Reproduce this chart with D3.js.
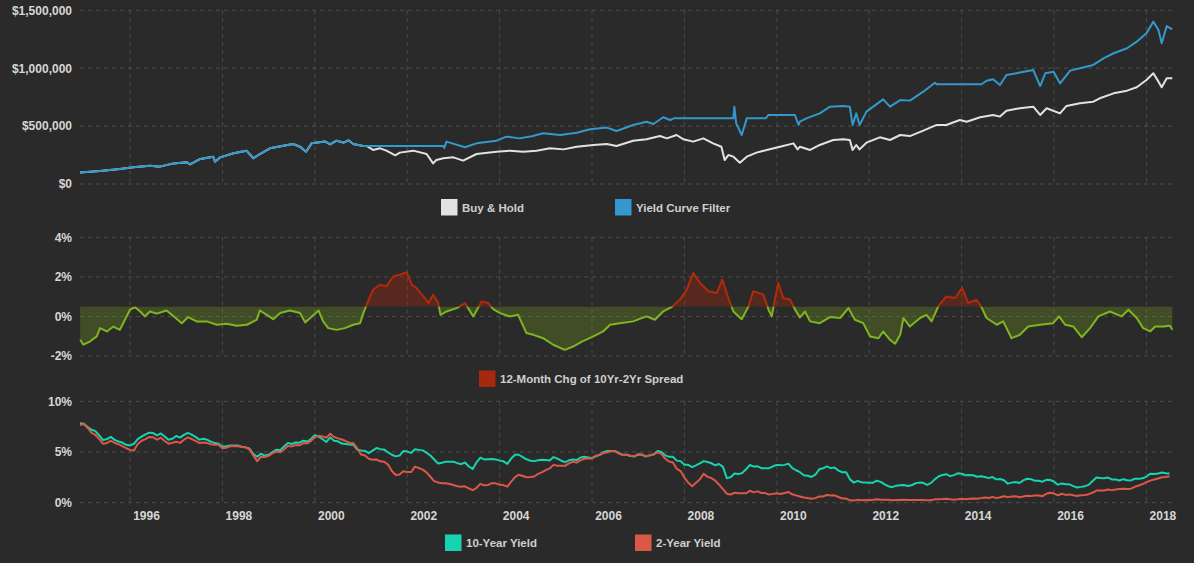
<!DOCTYPE html>
<html>
<head>
<meta charset="utf-8">
<script src="https://cdn.jsdelivr.net/npm/d3@7"></script>
<style>
html,body{margin:0;padding:0;background:#2a2a2a;}
svg{display:block;}
</style>
</head>
<body>
<svg id="chart" width="1194" height="563"></svg>
<script>
// ---------- DATA ----------
const xTickYears = [1996, 1998, 2000, 2002, 2004, 2006, 2008, 2010, 2012, 2014, 2016, 2018];
const topTicks = [0, 500000, 1000000, 1500000];
const midTicks = [-2, 0, 2, 4];
const botTicks = [0, 5, 10];
const spreadThreshold = 0.5;

// Buy & Hold portfolio (decimal year, $ thousands)
const bhDates = [1994.92,1995.35,1995.78,1996.07,1996.43,1996.65,1996.94,1997.23,1997.30,1997.52,1997.80,1997.84,1997.95,1998.24,1998.52,1998.67,1998.81,1999.03,1999.32,1999.53,1999.68,1999.81,1999.93,2000.22,2000.33,2000.47,2000.62,2000.73,2000.83,2001.05,2001.12,2001.26,2001.41,2001.55,2001.74,2001.84,2002.13,2002.42,2002.56,2002.63,2002.78,2003.00,2003.21,2003.50,2003.93,2004.22,2004.51,2004.80,2005.09,2005.38,2005.67,2006.03,2006.32,2006.53,2006.89,2007.18,2007.47,2007.62,2007.83,2007.98,2008.19,2008.41,2008.62,2008.80,2008.87,2008.95,2009.06,2009.20,2009.35,2009.56,2009.78,2010.07,2010.36,2010.45,2010.50,2010.72,2010.93,2011.22,2011.44,2011.58,2011.64,2011.72,2011.79,2011.94,2012.23,2012.45,2012.67,2012.88,2013.17,2013.46,2013.67,2013.96,2014.11,2014.40,2014.68,2014.83,2014.97,2015.26,2015.55,2015.70,2015.84,2016.13,2016.27,2016.56,2016.85,2016.99,2017.29,2017.58,2017.79,2018.00,2018.15,2018.26,2018.33,2018.44,2018.56];
const bhValues = [100,112,130,144,158,150,178,187,170,216,236,193,230,265,288,222,259,308,331,345,322,279,351,368,343,374,357,377,345,328,328,294,308,288,248,271,288,259,178,207,222,230,202,259,279,288,279,288,308,299,322,337,345,328,374,386,414,394,423,386,366,394,351,322,207,250,236,184,236,271,294,322,351,299,322,294,337,380,386,380,294,337,299,357,403,380,423,414,461,510,510,553,538,576,596,582,633,654,668,596,654,610,674,697,711,740,783,806,835,898,956,884,835,913,913];

// Yield Curve Filter portfolio (decimal year, $ thousands)
const ycfDates = [1994.92,1995.35,1995.78,1996.07,1996.43,1996.65,1996.94,1997.23,1997.30,1997.52,1997.80,1997.84,1997.95,1998.24,1998.52,1998.67,1998.81,1999.03,1999.32,1999.53,1999.68,1999.81,1999.93,2000.22,2000.33,2000.47,2000.62,2000.73,2000.83,2001.05,2002.78,2002.80,2002.85,2002.92,2003.25,2003.50,2003.93,2004.15,2004.43,2004.72,2004.94,2005.31,2005.67,2005.96,2006.32,2006.53,2006.89,2007.18,2007.33,2007.54,2007.69,2007.77,2009.06,2009.08,2009.12,2009.24,2009.35,2009.76,2009.82,2010.39,2010.47,2010.50,2010.64,2010.93,2011.15,2011.44,2011.58,2011.64,2011.72,2011.79,2011.94,2012.30,2012.45,2012.67,2012.88,2013.17,2013.42,2013.46,2014.43,2014.54,2014.68,2014.83,2014.97,2015.26,2015.55,2015.70,2015.81,2015.99,2016.13,2016.35,2016.56,2016.85,2017.07,2017.29,2017.58,2017.79,2018.00,2018.15,2018.26,2018.33,2018.44,2018.56];
const ycfValues = [100,112,130,144,158,150,178,187,170,216,236,193,230,265,288,222,259,308,331,345,322,279,351,368,343,374,357,377,345,328,328,312,366,357,317,351,374,409,394,414,438,423,443,472,487,458,510,538,518,576,553,567,567,668,524,423,567,567,596,596,510,538,567,610,668,674,668,510,610,510,625,731,668,725,720,797,875,861,861,892,904,855,941,962,985,846,956,970,869,979,999,1028,1085,1129,1172,1229,1301,1402,1330,1215,1364,1336];

// 12-Month change of 10Yr-2Yr spread (decimal year, %)
const spreadDates = [1994.92,1994.99,1995.13,1995.28,1995.35,1995.50,1995.64,1995.78,1995.89,1996.00,1996.11,1996.22,1996.32,1996.43,1996.58,1996.79,1996.93,1997.12,1997.26,1997.44,1997.66,1997.88,1998.09,1998.31,1998.53,1998.74,1998.81,1998.96,1999.10,1999.25,1999.46,1999.68,1999.79,1999.90,2000.08,2000.18,2000.29,2000.47,2000.65,2000.83,2000.98,2001.05,2001.12,2001.26,2001.41,2001.55,2001.70,2001.84,2001.99,2002.10,2002.20,2002.35,2002.46,2002.56,2002.67,2002.72,2002.85,2003.07,2003.25,2003.43,2003.61,2003.75,2003.86,2004.01,2004.22,2004.40,2004.58,2004.73,2004.94,2005.16,2005.41,2005.59,2005.78,2006.03,2006.24,2006.39,2006.60,2006.89,2007.18,2007.36,2007.54,2007.72,2007.90,2008.05,2008.19,2008.34,2008.52,2008.70,2008.82,2008.95,2009.06,2009.24,2009.38,2009.49,2009.71,2009.82,2009.89,2009.93,2010.03,2010.14,2010.29,2010.39,2010.50,2010.61,2010.72,2010.93,2011.15,2011.37,2011.55,2011.69,2011.87,2012.02,2012.20,2012.30,2012.45,2012.56,2012.67,2012.74,2012.88,2013.10,2013.24,2013.35,2013.50,2013.67,2013.86,2014.01,2014.14,2014.32,2014.43,2014.54,2014.76,2014.90,2015.08,2015.26,2015.44,2015.70,2015.98,2016.11,2016.24,2016.42,2016.60,2016.78,2016.96,2017.21,2017.46,2017.61,2017.79,2017.93,2018.08,2018.19,2018.37,2018.51,2018.56];
const spreadValues = [-1.18,-1.43,-1.27,-1.01,-0.59,-0.76,-0.51,-0.68,-0.17,0.34,0.47,0.25,0.00,0.25,0.14,0.30,0.03,-0.34,-0.03,-0.25,-0.25,-0.42,-0.37,-0.47,-0.42,-0.17,0.30,0.08,-0.14,0.17,0.30,0.17,-0.30,-0.08,0.30,-0.25,-0.59,-0.68,-0.59,-0.42,-0.34,0.17,0.59,1.35,1.60,1.52,2.03,2.11,2.23,1.60,1.43,1.01,0.68,1.10,0.68,0.08,0.25,0.42,0.68,0.00,0.76,0.68,0.37,0.17,0.00,0.08,-0.84,-0.93,-1.10,-1.43,-1.69,-1.52,-1.27,-1.01,-0.76,-0.42,-0.34,-0.25,0.00,-0.17,0.25,0.47,0.84,1.35,2.19,1.69,1.27,1.18,1.86,0.93,0.25,-0.14,0.47,1.27,1.10,0.34,0.00,0.51,1.69,0.93,0.84,0.37,-0.05,0.25,-0.25,-0.34,-0.03,-0.08,0.42,-0.17,-0.34,-1.01,-1.10,-0.76,-1.18,-1.38,-0.93,-0.08,-0.51,-0.08,0.08,-0.25,0.54,1.01,0.93,1.43,0.68,0.84,0.47,-0.08,-0.42,-0.25,-1.10,-0.93,-0.51,-0.42,-0.34,0.00,-0.42,-0.51,-1.05,-0.59,0.00,0.25,0.00,0.34,-0.08,-0.59,-0.76,-0.51,-0.51,-0.47,-0.68];

// Monthly yields (%), Dec 1994 onward
const yieldStart = 1994.917;
const tenYear = [7.84,
7.78,7.47,7.20,7.06,6.63,6.17,6.28,6.49,6.20,6.04,5.93,5.71,
5.65,5.81,6.27,6.51,6.74,6.91,6.87,6.64,6.83,6.53,6.20,6.30,
6.58,6.42,6.69,6.89,6.71,6.49,6.22,6.30,6.21,6.03,5.88,5.81,
5.54,5.57,5.65,5.64,5.65,5.50,5.46,5.34,4.81,4.53,4.83,4.65,
4.72,5.00,5.23,5.18,5.54,5.90,5.79,5.94,5.92,6.11,6.03,6.28,
6.66,6.52,6.26,5.99,6.44,6.10,6.05,5.83,5.80,5.74,5.72,5.24,
5.16,5.10,4.89,5.14,5.39,5.28,5.24,4.97,4.73,4.57,4.65,5.09,
5.04,4.91,5.28,5.21,5.16,4.93,4.65,4.26,3.87,3.94,4.05,4.03,
4.05,3.90,3.81,3.96,3.57,3.33,3.98,4.45,4.27,4.29,4.30,4.27,
4.15,4.08,3.83,4.35,4.72,4.73,4.50,4.28,4.13,4.10,4.19,4.23,
4.22,4.17,4.50,4.34,4.14,4.00,4.18,4.26,4.20,4.46,4.54,4.47,
4.42,4.57,4.72,4.99,5.11,5.11,5.09,4.88,4.72,4.73,4.60,4.56,
4.76,4.72,4.56,4.69,4.75,5.10,5.00,4.67,4.52,4.53,4.15,4.10,
3.74,3.74,3.51,3.68,3.88,4.10,4.01,3.89,3.69,3.81,3.53,2.42,
2.52,2.87,2.82,2.93,3.29,3.72,3.56,3.59,3.40,3.39,3.40,3.59,
3.73,3.69,3.73,3.85,3.42,3.20,3.01,2.70,2.65,2.54,2.76,3.29,
3.39,3.58,3.41,3.46,3.17,3.00,3.00,2.30,1.98,2.15,2.01,1.98,
1.97,1.97,2.17,2.05,1.80,1.62,1.53,1.68,1.72,1.75,1.65,1.72,
1.91,1.98,1.96,1.76,1.93,2.30,2.58,2.74,2.81,2.62,2.72,2.90,
2.86,2.71,2.72,2.71,2.56,2.60,2.54,2.42,2.53,2.30,2.33,2.21,
1.88,1.98,2.04,1.94,2.20,2.36,2.32,2.17,2.17,2.07,2.26,2.24,
2.09,1.78,1.89,1.81,1.81,1.64,1.50,1.56,1.63,1.76,2.14,2.49,
2.43,2.42,2.48,2.30,2.30,2.19,2.32,2.21,2.20,2.36,2.35,2.40,
2.58,2.86,2.84,2.87,2.98,2.91,2.89];
const twoYear = [7.66,
7.76,7.37,6.88,6.68,6.27,5.80,5.89,6.10,5.89,5.77,5.57,5.39,
5.20,5.14,5.79,6.11,6.27,6.49,6.45,6.21,6.41,6.08,5.82,5.91,
6.01,5.90,6.21,6.45,6.28,6.09,5.89,5.94,5.88,5.77,5.71,5.72,
5.36,5.42,5.56,5.58,5.56,5.52,5.46,5.27,4.67,4.09,4.53,4.51,
4.62,4.88,5.05,4.98,5.25,5.62,5.55,5.68,5.66,5.86,5.86,6.10,
6.44,6.61,6.53,6.40,6.81,6.48,6.34,6.23,6.08,5.91,5.88,5.35,
4.76,4.66,4.34,4.23,4.26,4.08,4.04,3.76,3.12,2.73,2.78,3.11,
3.03,3.02,3.56,3.42,3.26,2.99,2.56,2.13,2.00,1.91,1.92,1.84,
1.74,1.63,1.57,1.62,1.42,1.23,1.47,1.86,1.71,1.75,1.93,1.91,
1.76,1.74,1.58,2.07,2.53,2.76,2.64,2.51,2.53,2.58,2.85,3.01,
3.22,3.38,3.73,3.65,3.64,3.64,3.87,4.04,3.95,4.17,4.33,4.37,
4.35,4.64,4.74,4.89,4.97,5.09,5.07,4.85,4.69,4.72,4.64,4.58,
4.79,4.75,4.57,4.67,4.77,4.96,4.82,4.34,4.06,3.97,3.34,3.12,
2.48,1.97,1.62,1.96,2.30,2.85,2.55,2.43,2.17,1.78,1.34,0.89,
0.81,0.98,0.93,0.93,0.92,1.18,1.02,1.12,0.96,0.95,0.80,0.87,
0.93,0.86,0.96,1.06,0.83,0.72,0.62,0.52,0.47,0.38,0.45,0.62,
0.61,0.77,0.70,0.73,0.56,0.41,0.41,0.23,0.21,0.28,0.25,0.26,
0.24,0.28,0.34,0.29,0.29,0.29,0.23,0.27,0.26,0.28,0.27,0.26,
0.27,0.27,0.26,0.23,0.25,0.33,0.34,0.36,0.40,0.34,0.30,0.34,
0.39,0.33,0.40,0.42,0.39,0.45,0.51,0.47,0.57,0.45,0.53,0.64,
0.55,0.62,0.64,0.54,0.61,0.69,0.67,0.70,0.71,0.64,0.88,0.98,
0.90,0.73,0.88,0.77,0.82,0.73,0.67,0.74,0.77,0.84,0.98,1.20,
1.21,1.20,1.31,1.24,1.30,1.34,1.37,1.34,1.38,1.57,1.70,1.84,
2.03,2.18,2.28,2.38,2.51,2.53,2.61];

// ---------- CHART ----------
const C = {
  bg:'#2a2a2a', grid:'#4d4d4d', text:'#d6d6d6', legendText:'#cfcfcf',
  bh:'#e2e2e2', ycf:'#3399cc', green:'#7fb520', red:'#b3290c',
  greenFill:'rgba(118,160,30,0.30)', redFill:'rgba(170,40,12,0.36)',
  ten:'#17d4b0', two:'#dc5846'
};
const FONT = "'Liberation Sans', Arial, sans-serif";
const svg = d3.select('#chart');
svg.append('rect').attr('width',1194).attr('height',563).attr('fill',C.bg);

const x = d3.scaleLinear().domain([1994.917, 2018.56]).range([80, 1172.3]);
const L = 80, R = 1173;
const yTop = d3.scaleLinear().domain([0, 1500000]).range([184, 10.3]);
const yMid = d3.scaleLinear().domain([-2, 4]).range([356, 237.3]);
const yBot = d3.scaleLinear().domain([0, 10]).range([502.7, 401.3]);

function grid(y, ticks, top, bottom){
  const g = svg.append('g');
  g.selectAll('line.h').data(ticks).join('line')
    .attr('x1',L).attr('x2',R).attr('y1',d=>y(d)).attr('y2',d=>y(d))
    .attr('stroke',C.grid).attr('stroke-dasharray','4,4');
  g.selectAll('line.v').data(xTickYears).join('line')
    .attr('x1',d=>x(d)).attr('x2',d=>x(d)).attr('y1',top).attr('y2',bottom)
    .attr('stroke',C.grid).attr('stroke-dasharray','4,4');
}
function yAxis(y, ticks, fmt){
  const ax = svg.append('g').attr('transform',`translate(${L},0)`)
    .call(d3.axisLeft(y).tickValues(ticks).tickFormat(fmt).tickSize(0).tickPadding(8));
  ax.select('.domain').remove();
  ax.selectAll('text').attr('fill',C.text).style('font-family',FONT)
    .style('font-size','12px').style('font-weight','bold');
}
function legend(items, cy){
  items.forEach(it=>{
    svg.append('rect').attr('x',it.x).attr('y',cy-8.5).attr('width',16.5).attr('height',16.5)
      .attr('fill',it.color);
    svg.append('text').attr('x',it.x+21).attr('y',cy).attr('dy','0.36em')
      .attr('fill',C.legendText).style('font-family',FONT).style('font-size','11.5px')
      .style('font-weight','bold').text(it.label);
  });
}

// --- Top panel ---
grid(yTop, topTicks, yTop(1500000), yTop(0));
yAxis(yTop, topTicks, d3.format('$,'));
const bh = bhDates.map((d,i)=>({d, v:bhValues[i]*1000}));
const ycf = ycfDates.map((d,i)=>({d, v:ycfValues[i]*1000}));
const lineTop = d3.line().x(p=>x(p.d)).y(p=>yTop(p.v));
svg.append('path').datum(bh).attr('d',lineTop).attr('fill','none')
  .attr('stroke',C.bh).attr('stroke-width',2).attr('stroke-linejoin','round');
svg.append('path').datum(ycf).attr('d',lineTop).attr('fill','none')
  .attr('stroke',C.ycf).attr('stroke-width',2).attr('stroke-linejoin','round');
legend([{x:441,color:C.bh,label:'Buy & Hold'},{x:615,color:C.ycf,label:'Yield Curve Filter'}], 207.5);

// --- Middle panel ---
grid(yMid, midTicks, yMid(4), yMid(-2));
yAxis(yMid, midTicks, d=>d+'%');
const defs = svg.append('defs');
const thrY = yMid(spreadThreshold);
defs.append('clipPath').attr('id','above').append('rect')
  .attr('x',0).attr('y',0).attr('width',1194).attr('height',thrY);
defs.append('clipPath').attr('id','below').append('rect')
  .attr('x',0).attr('y',thrY).attr('width',1194).attr('height',563-thrY);
const sp = spreadDates.map((d,i)=>({d, v:spreadValues[i]}));
const areaMid = d3.area().x(p=>x(p.d)).y0(thrY).y1(p=>yMid(p.v));
const lineMid = d3.line().x(p=>x(p.d)).y(p=>yMid(p.v));
svg.append('path').datum(sp).attr('d',areaMid).attr('fill',C.greenFill).attr('clip-path','url(#below)');
svg.append('path').datum(sp).attr('d',areaMid).attr('fill',C.redFill).attr('clip-path','url(#above)');
svg.append('path').datum(sp).attr('d',lineMid).attr('fill','none').attr('stroke',C.green)
  .attr('stroke-width',2).attr('stroke-linejoin','round').attr('clip-path','url(#below)');
svg.append('path').datum(sp).attr('d',lineMid).attr('fill','none').attr('stroke',C.red)
  .attr('stroke-width',2).attr('stroke-linejoin','round').attr('clip-path','url(#above)');
legend([{x:479,color:'#a6280e',label:'12-Month Chg of 10Yr-2Yr Spread'}], 379);

// --- Bottom panel ---
grid(yBot, botTicks, yBot(10), yBot(0));
yAxis(yBot, botTicks, d=>d+'%');
const ten = tenYear.map((v,i)=>({d:yieldStart+i/12, v}));
const two = twoYear.map((v,i)=>({d:yieldStart+i/12, v}));
const lineBot = d3.line().x(p=>x(p.d)).y(p=>yBot(p.v));
svg.append('path').datum(ten).attr('d',lineBot).attr('fill','none').attr('stroke',C.ten)
  .attr('stroke-width',2).attr('stroke-linejoin','round');
svg.append('path').datum(two).attr('d',lineBot).attr('fill','none').attr('stroke',C.two)
  .attr('stroke-width',2).attr('stroke-linejoin','round');

// x axis (labels offset to the right of gridlines as in the original)
const xa = svg.append('g').attr('transform','translate(16,509)')
  .call(d3.axisBottom(x).tickValues(xTickYears).tickFormat(d3.format('d')).tickSize(0).tickPadding(2));
xa.select('.domain').remove();
xa.selectAll('text').attr('fill',C.text).style('font-family',FONT)
  .style('font-size','12px').style('font-weight','bold');

legend([{x:445,color:C.ten,label:'10-Year Yield'},{x:635,color:C.two,label:'2-Year Yield'}], 543);
</script>
</body>
</html>
